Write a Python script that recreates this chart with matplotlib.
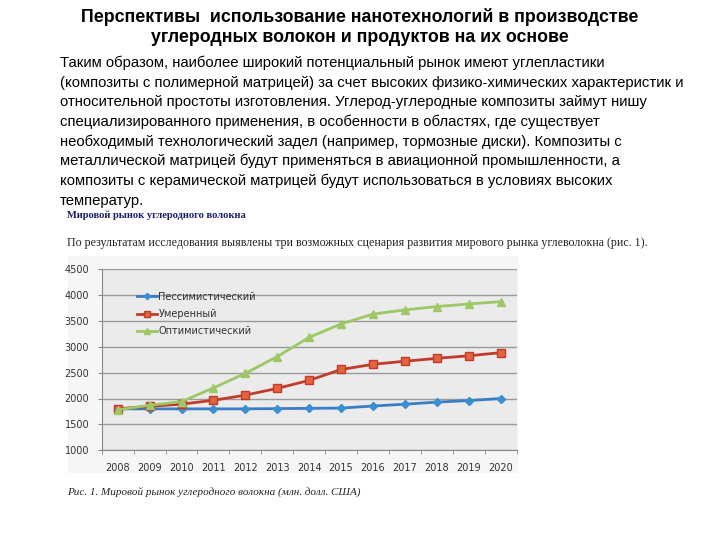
import matplotlib
matplotlib.use("Agg")
import matplotlib.pyplot as plt
from matplotlib.patches import Rectangle

W, H = 720, 540

years = ["2008", "2009", "2010", "2011", "2012", "2013", "2014",
         "2015", "2016", "2017", "2018", "2019", "2020"]
pessim = [1800, 1800, 1800, 1800, 1800, 1805, 1810, 1815, 1855, 1890, 1930, 1960, 2000]
moderate = [1800, 1850, 1890, 1965, 2065, 2195, 2350, 2560, 2660, 2720, 2775, 2825, 2885]
optim = [1780, 1870, 1940, 2205, 2485, 2810, 3180, 3440, 3630, 3710, 3775, 3825, 3870]
series_names = ["Пессимистический", "Умеренный", "Оптимистический"]
yticks = [1000, 1500, 2000, 2500, 3000, 3500, 4000, 4500]

title = ["Перспективы  использование нанотехнологий в производстве",
         "углеродных волокон и продуктов на их основе"]
paragraph = [
    "Таким образом, наиболее широкий потенциальный рынок имеют углепластики",
    "(композиты с полимерной матрицей) за счет высоких физико-химических характеристик и",
    "относительной простоты изготовления. Углерод-углеродные композиты займут нишу",
    "специализированного применения, в особенности в областях, где существует",
    "необходимый технологический задел (например, тормозные диски). Композиты с",
    "металлической матрицей будут применяться в авиационной промышленности, а",
    "композиты с керамической матрицей будут использоваться в условиях высоких",
    "температур.",
]
img_head = "Мировой рынок углеродного волокна"
img_line = ("По результатам исследования выявлены три возможных сценария "
            "развития мирового рынка углеволокна (рис. 1).")
img_caption = "Рис. 1. Мировой рынок углеродного волокна (млн. долл. США)"


def fx(x):
    return x / W


def fy(y):
    return 1 - y / H


fig = plt.figure(figsize=(7.2, 5.4), dpi=100)
fig.patch.set_facecolor("white")

# title
for i, line in enumerate(title):
    fig.text(0.5, fy(17 + 20 * i), line, ha="center", va="center",
             fontsize=12.8, fontweight="bold", family=["Liberation Sans"])

# paragraph
for i, line in enumerate(paragraph):
    fig.text(fx(60), fy(67 + 19.7 * i), line, ha="left", va="baseline",
             fontsize=10.75, family=["Liberation Sans"])

# embedded document text
fig.text(fx(67), fy(215), img_head, ha="left", va="center", fontsize=7.6,
         fontweight="bold", color="#1c1c6b", family=["Liberation Serif"])
fig.text(fx(67), fy(243), img_line, ha="left", va="center", fontsize=8.6,
         color="#222222", family=["Liberation Serif"])
fig.text(fx(67), fy(493), img_caption, ha="left", va="center", fontsize=8,
         style="italic", color="#222222", family=["Liberation Serif"])

# chart outer background
bg = Rectangle((fx(68), fy(473)), fx(518 - 68), (473 - 256) / H,
               transform=fig.transFigure, facecolor="#f6f6f6",
               edgecolor="none", zorder=-5)
fig.add_artist(bg)

ax = fig.add_axes([fx(101.7), fy(450.3), fx(516.7 - 101.7), (450.3 - 269) / H])
ax.set_facecolor("#ebebeb")

x = list(range(len(years)))
ax.plot(x, pessim, color="#3a7cc6", lw=2, marker="D", ms=4,
        mfc="#3a8fd0", mec="#3a8fd0", label=series_names[0], zorder=3)
ax.plot(x, moderate, color="#c23b2a", lw=2, marker="s", ms=6,
        mfc="#e0643c", mec="#c23b2a", label=series_names[1], zorder=3)
ax.plot(x, optim, color="#9cc865", lw=2, marker="^", ms=6,
        mfc="#9cc865", mec="#9cc865", label=series_names[2], zorder=3)

ax.set_xlim(-0.5, len(years) - 0.5)
ax.set_ylim(1000, 4500)
ax.set_yticks(yticks)
ax.set_xticks(x)
ax.set_xticklabels(years)
ax.set_xticks([i - 0.5 for i in range(len(years) + 1)], minor=True)
ax.tick_params(axis="x", which="major", length=0, pad=9, labelsize=7,
               labelcolor="#333333")
ax.tick_params(axis="x", which="minor", length=3, color="#888888")
ax.tick_params(axis="y", length=3, color="#888888", labelsize=7,
               labelcolor="#333333", pad=6)
ax.yaxis.grid(True, color="#9a9a9a", lw=1)
ax.set_axisbelow(True)
for s in ["top", "right"]:
    ax.spines[s].set_visible(False)
for s in ["left", "bottom"]:
    ax.spines[s].set_color("#888888")

leg = ax.legend(loc="upper left", bbox_to_anchor=(0.085, 0.875), frameon=False,
                fontsize=7, handlelength=2.1, handletextpad=0.1,
                labelspacing=0.75, borderaxespad=0, borderpad=0,
                markerscale=0.8)
for t in leg.get_texts():
    t.set_color("#333333")

fig.savefig("out.png", dpi=100)
